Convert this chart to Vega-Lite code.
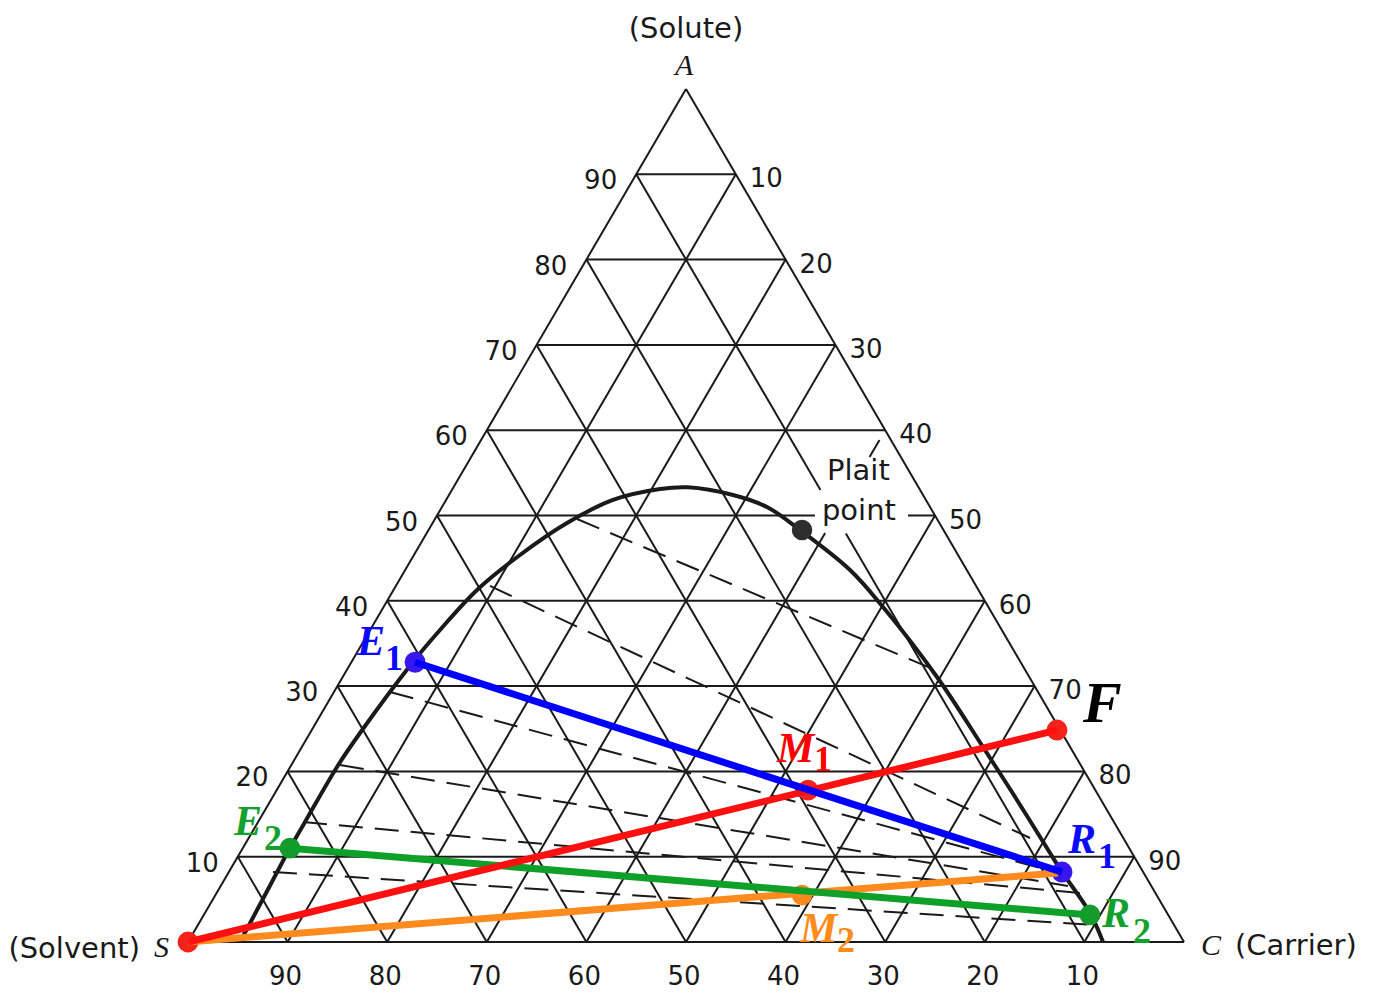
{
  "$schema": "https://vega.github.io/schema/vega-lite/v6.json",
  "width": 996,
  "height": 853,
  "autosize": {"type": "none"},
  "padding": {"left": 188, "top": 89, "right": 216, "bottom": 51},
  "background": "white",
  "config": {"view": {"stroke": null}},
  "resolve": {"scale": {"color": "independent", "size": "independent"}},
  "datasets": {
    "grid": [
      {"x": 0, "y": 0, "x2": 100, "y2": 0},
      {"x": 0, "y": 0, "x2": 50, "y2": 100},
      {"x": 100, "y": 0, "x2": 50, "y2": 100},
      {"x": 5, "y": 10, "x2": 95, "y2": 10},
      {"x": 10, "y": 20, "x2": 90, "y2": 20},
      {"x": 15, "y": 30, "x2": 85, "y2": 30},
      {"x": 20, "y": 40, "x2": 80, "y2": 40},
      {"x": 25, "y": 50, "x2": 62.95, "y2": 50},
      {"x": 72.29, "y": 50, "x2": 75, "y2": 50},
      {"x": 30, "y": 60, "x2": 70, "y2": 60},
      {"x": 35, "y": 70, "x2": 65, "y2": 70},
      {"x": 40, "y": 80, "x2": 60, "y2": 80},
      {"x": 45, "y": 90, "x2": 55, "y2": 90},
      {"x": 10, "y": 0, "x2": 55, "y2": 90},
      {"x": 20, "y": 0, "x2": 60, "y2": 80},
      {"x": 30, "y": 0, "x2": 65, "y2": 70},
      {"x": 40, "y": 0, "x2": 63.97, "y2": 47.95},
      {"x": 68.43, "y": 56.86, "x2": 69.43, "y2": 58.85},
      {"x": 50, "y": 0, "x2": 75, "y2": 50},
      {"x": 60, "y": 0, "x2": 80, "y2": 40},
      {"x": 70, "y": 0, "x2": 85, "y2": 30},
      {"x": 80, "y": 0, "x2": 90, "y2": 20},
      {"x": 90, "y": 0, "x2": 95, "y2": 10},
      {"x": 90, "y": 0, "x2": 66.05, "y2": 47.9},
      {"x": 63.5, "y": 53, "x2": 45, "y2": 90},
      {"x": 80, "y": 0, "x2": 40, "y2": 80},
      {"x": 70, "y": 0, "x2": 35, "y2": 70},
      {"x": 60, "y": 0, "x2": 30, "y2": 60},
      {"x": 50, "y": 0, "x2": 25, "y2": 50},
      {"x": 40, "y": 0, "x2": 20, "y2": 40},
      {"x": 30, "y": 0, "x2": 15, "y2": 30},
      {"x": 20, "y": 0, "x2": 10, "y2": 20},
      {"x": 10, "y": 0, "x2": 5, "y2": 10}
    ],
    "ties": [
      {"x": 39.06, "y": 49.59, "x2": 75.5, "y2": 31.65},
      {"x": 30.32, "y": 41.74, "x2": 84.54, "y2": 12.19},
      {"x": 20.28, "y": 29.31, "x2": 87.05, "y2": 8.21},
      {"x": 15.26, "y": 20.75, "x2": 88.35, "y2": 6.57},
      {"x": 11.55, "y": 14.07, "x2": 89.56, "y2": 5.74},
      {"x": 8.53, "y": 8.21, "x2": 90.96, "y2": 1.99}
    ],
    "curve": [
      {"x": 5.22, "y": 0},
      {"x": 6.93, "y": 3.75},
      {"x": 8.53, "y": 7.27},
      {"x": 10.24, "y": 11.02},
      {"x": 11.75, "y": 14.07},
      {"x": 14.96, "y": 20.52},
      {"x": 17.27, "y": 24.5},
      {"x": 22.59, "y": 32.83},
      {"x": 25.3, "y": 36.58},
      {"x": 29.02, "y": 41.27},
      {"x": 33.33, "y": 45.37},
      {"x": 38.05, "y": 49.12},
      {"x": 42.67, "y": 51.82},
      {"x": 47.39, "y": 53.1},
      {"x": 50.2, "y": 53.3},
      {"x": 54.72, "y": 52.4},
      {"x": 58.13, "y": 50.99},
      {"x": 61.45, "y": 48.3},
      {"x": 66.47, "y": 43.61},
      {"x": 69.78, "y": 39.27},
      {"x": 75.2, "y": 31.07},
      {"x": 79.82, "y": 22.86},
      {"x": 83.23, "y": 16.65},
      {"x": 86.55, "y": 10.43},
      {"x": 87.75, "y": 8.21},
      {"x": 90.56, "y": 3.4},
      {"x": 91.87, "y": 0}
    ],
    "dots": [
      {"name": "S", "grp": "feed", "x": 0, "y": 0},
      {"name": "F", "grp": "feed", "x": 87.25, "y": 24.85},
      {"name": "M1", "grp": "feed", "x": 62.25, "y": 17.8},
      {"name": "E1", "grp": "stage1", "x": 22.8, "y": 32.8},
      {"name": "R1", "grp": "stage1", "x": 87.75, "y": 8.2},
      {"name": "E2", "grp": "stage2", "x": 10.24, "y": 11.0},
      {"name": "R2", "grp": "stage2", "x": 90.56, "y": 3.17},
      {"name": "M2", "grp": "mix2", "x": 61.65, "y": 5.5},
      {"name": "Plait point", "grp": "plait", "x": 61.65, "y": 48.3}
    ],
    "streams": [
      {"grp": "mix2", "x": 0, "y": 0, "x2": 87.35, "y2": 8.09},
      {"grp": "stage2", "x": 10.24, "y": 11.0, "x2": 90.56, "y2": 3.17},
      {"grp": "feed", "x": 0, "y": 0, "x2": 87.25, "y2": 24.85},
      {"grp": "stage1", "x": 22.8, "y": 32.8, "x2": 87.75, "y2": 8.2}
    ],
    "ticks": [
      {"side": "left", "label": "10", "x": 5, "y": 10},
      {"side": "left", "label": "20", "x": 10, "y": 20},
      {"side": "left", "label": "30", "x": 15, "y": 30},
      {"side": "left", "label": "40", "x": 20, "y": 40},
      {"side": "left", "label": "50", "x": 25, "y": 50},
      {"side": "left", "label": "60", "x": 30, "y": 60},
      {"side": "left", "label": "70", "x": 35, "y": 70},
      {"side": "left", "label": "80", "x": 40, "y": 80},
      {"side": "left", "label": "90", "x": 45, "y": 90},
      {"side": "right", "label": "90", "x": 95, "y": 10},
      {"side": "right", "label": "80", "x": 90, "y": 20},
      {"side": "right", "label": "70", "x": 85, "y": 30},
      {"side": "right", "label": "60", "x": 80, "y": 40},
      {"side": "right", "label": "50", "x": 75, "y": 50},
      {"side": "right", "label": "40", "x": 70, "y": 60},
      {"side": "right", "label": "30", "x": 65, "y": 70},
      {"side": "right", "label": "20", "x": 60, "y": 80},
      {"side": "right", "label": "10", "x": 55, "y": 90},
      {"side": "bottom", "label": "90", "x": 10, "y": 0},
      {"side": "bottom", "label": "80", "x": 20, "y": 0},
      {"side": "bottom", "label": "70", "x": 30, "y": 0},
      {"side": "bottom", "label": "60", "x": 40, "y": 0},
      {"side": "bottom", "label": "50", "x": 50, "y": 0},
      {"side": "bottom", "label": "40", "x": 60, "y": 0},
      {"side": "bottom", "label": "30", "x": 70, "y": 0},
      {"side": "bottom", "label": "20", "x": 80, "y": 0},
      {"side": "bottom", "label": "10", "x": 90, "y": 0}
    ],
    "words": [
      {"role": "center", "text": "(Solute)", "x": 50, "y": 105.98},
      {"role": "right", "text": "(Solvent)", "x": -4.82, "y": -1.88},
      {"role": "left", "text": "(Carrier)", "x": 105.12, "y": -1.52},
      {"role": "left", "text": "Plait", "x": 64.16, "y": 54.16},
      {"role": "left", "text": "point", "x": 63.65, "y": 49.47}
    ],
    "letters": [
      {"text": "A", "x": 48.9, "y": 101.64},
      {"text": "S", "x": -3.41, "y": -1.76},
      {"text": "C", "x": 101.7, "y": -1.52}
    ],
    "tags": [
      {"part": "main", "grp": "stage1", "text": "E", "x": 16.97, "y": 33.65},
      {"part": "sub", "grp": "stage1", "text": "1", "x": 19.78, "y": 31.89},
      {"part": "main", "grp": "stage2", "text": "E", "x": 4.62, "y": 12.54},
      {"part": "sub", "grp": "stage2", "text": "2", "x": 7.63, "y": 10.79},
      {"part": "main", "grp": "stage1", "text": "R", "x": 88.35, "y": 10.43},
      {"part": "sub", "grp": "stage1", "text": "1", "x": 91.37, "y": 8.68},
      {"part": "main", "grp": "stage2", "text": "R", "x": 91.77, "y": 1.76},
      {"part": "sub", "grp": "stage2", "text": "2", "x": 94.88, "y": -0.12},
      {"part": "main", "grp": "feed", "text": "M", "x": 59.14, "y": 21.1},
      {"part": "sub", "grp": "feed", "text": "1", "x": 62.85, "y": 20.05},
      {"part": "main", "grp": "mix2", "text": "M", "x": 61.45, "y": 0},
      {"part": "sub", "grp": "mix2", "text": "2", "x": 65.16, "y": -1.17},
      {"part": "big", "grp": "feedtag", "text": "F", "x": 89.86, "y": 25.79}
    ]
  },
  "layer": [
    {
      "data": {"name": "grid"},
      "mark": {"type": "rule", "color": "#1a1a1a", "strokeWidth": 2},
      "encoding": {
        "x": {"field": "x", "type": "quantitative", "scale": {"domain": [0, 100], "nice": false, "zero": false}, "axis": null},
        "y": {"field": "y", "type": "quantitative", "scale": {"domain": [0, 100], "nice": false, "zero": false}, "axis": null},
        "x2": {"field": "x2"},
        "y2": {"field": "y2"}
      }
    },
    {
      "data": {"name": "ties"},
      "mark": {"type": "rule", "color": "#1a1a1a", "strokeWidth": 2, "strokeDash": [24, 12]},
      "encoding": {
        "x": {"field": "x", "type": "quantitative", "axis": null},
        "y": {"field": "y", "type": "quantitative", "axis": null},
        "x2": {"field": "x2"},
        "y2": {"field": "y2"}
      }
    },
    {
      "data": {"name": "curve"},
      "mark": {"type": "line", "color": "#1a1a1a", "strokeWidth": 4, "interpolate": "catmull-rom"},
      "encoding": {
        "x": {"field": "x", "type": "quantitative", "axis": null},
        "y": {"field": "y", "type": "quantitative", "axis": null},
        "order": {"field": "x", "type": "quantitative"}
      }
    },
    {
      "data": {"name": "dots"},
      "mark": {"type": "point", "filled": true, "opacity": 1, "shape": "circle"},
      "encoding": {
        "x": {"field": "x", "type": "quantitative", "axis": null},
        "y": {"field": "y", "type": "quantitative", "axis": null},
        "color": {"field": "grp", "type": "nominal", "legend": null,
          "scale": {"domain": ["stage1", "feed", "stage2", "mix2", "plait"], "range": ["#3a16ee", "#f3231b", "#169a2e", "#f7891c", "#2e2e2e"]}},
        "size": {"field": "grp", "type": "nominal", "legend": null,
          "scale": {"domain": ["stage1", "feed", "stage2", "mix2", "plait"], "range": [440, 420, 400, 420, 170]}}
      }
    },
    {
      "data": {"name": "streams"},
      "transform": [{"filter": "datum.grp === 'mix2'"}],
      "mark": {"type": "rule", "color": "#ff8a1e", "strokeWidth": 7},
      "encoding": {
        "x": {"field": "x", "type": "quantitative", "axis": null},
        "y": {"field": "y", "type": "quantitative", "axis": null},
        "x2": {"field": "x2"},
        "y2": {"field": "y2"}
      }
    },
    {
      "data": {"name": "streams"},
      "transform": [{"filter": "datum.grp === 'stage2'"}],
      "mark": {"type": "rule", "color": "#0fa02a", "strokeWidth": 7},
      "encoding": {
        "x": {"field": "x", "type": "quantitative", "axis": null},
        "y": {"field": "y", "type": "quantitative", "axis": null},
        "x2": {"field": "x2"},
        "y2": {"field": "y2"}
      }
    },
    {
      "data": {"name": "streams"},
      "transform": [{"filter": "datum.grp === 'feed'"}],
      "mark": {"type": "rule", "color": "#ff1010", "strokeWidth": 7},
      "encoding": {
        "x": {"field": "x", "type": "quantitative", "axis": null},
        "y": {"field": "y", "type": "quantitative", "axis": null},
        "x2": {"field": "x2"},
        "y2": {"field": "y2"}
      }
    },
    {
      "data": {"name": "streams"},
      "transform": [{"filter": "datum.grp === 'stage1'"}],
      "mark": {"type": "rule", "color": "#0000ff", "strokeWidth": 7},
      "encoding": {
        "x": {"field": "x", "type": "quantitative", "axis": null},
        "y": {"field": "y", "type": "quantitative", "axis": null},
        "x2": {"field": "x2"},
        "y2": {"field": "y2"}
      }
    },
    {
      "data": {"name": "ticks"},
      "transform": [{"filter": "datum.side === 'left'"}],
      "mark": {"type": "text", "font": "DejaVu Sans", "fontSize": 26, "color": "#1a1a1a", "align": "right", "baseline": "middle", "dx": -19, "dy": 7},
      "encoding": {
        "x": {"field": "x", "type": "quantitative", "axis": null},
        "y": {"field": "y", "type": "quantitative", "axis": null},
        "text": {"field": "label"}
      }
    },
    {
      "data": {"name": "ticks"},
      "transform": [{"filter": "datum.side === 'right'"}],
      "mark": {"type": "text", "font": "DejaVu Sans", "fontSize": 26, "color": "#1a1a1a", "align": "left", "baseline": "middle", "dx": 14, "dy": 5},
      "encoding": {
        "x": {"field": "x", "type": "quantitative", "axis": null},
        "y": {"field": "y", "type": "quantitative", "axis": null},
        "text": {"field": "label"}
      }
    },
    {
      "data": {"name": "ticks"},
      "transform": [{"filter": "datum.side === 'bottom'"}],
      "mark": {"type": "text", "font": "DejaVu Sans", "fontSize": 26, "color": "#1a1a1a", "align": "center", "baseline": "middle", "dx": -2, "dy": 35},
      "encoding": {
        "x": {"field": "x", "type": "quantitative", "axis": null},
        "y": {"field": "y", "type": "quantitative", "axis": null},
        "text": {"field": "label"}
      }
    },
    {
      "data": {"name": "words"},
      "transform": [{"filter": "datum.role === 'center'"}],
      "mark": {"type": "text", "font": "DejaVu Sans", "fontSize": 29, "color": "#1a1a1a", "align": "center", "baseline": "alphabetic"},
      "encoding": {
        "x": {"field": "x", "type": "quantitative", "axis": null},
        "y": {"field": "y", "type": "quantitative", "axis": null},
        "text": {"field": "text"}
      }
    },
    {
      "data": {"name": "words"},
      "transform": [{"filter": "datum.role === 'right'"}],
      "mark": {"type": "text", "font": "DejaVu Sans", "fontSize": 29, "color": "#1a1a1a", "align": "right", "baseline": "alphabetic"},
      "encoding": {
        "x": {"field": "x", "type": "quantitative", "axis": null},
        "y": {"field": "y", "type": "quantitative", "axis": null},
        "text": {"field": "text"}
      }
    },
    {
      "data": {"name": "words"},
      "transform": [{"filter": "datum.role === 'left'"}],
      "mark": {"type": "text", "font": "DejaVu Sans", "fontSize": 29, "color": "#1a1a1a", "align": "left", "baseline": "alphabetic"},
      "encoding": {
        "x": {"field": "x", "type": "quantitative", "axis": null},
        "y": {"field": "y", "type": "quantitative", "axis": null},
        "text": {"field": "text"}
      }
    },
    {
      "data": {"name": "letters"},
      "mark": {"type": "text", "font": "Liberation Serif", "fontStyle": "italic", "fontSize": 30, "color": "#1a1a1a", "align": "left", "baseline": "alphabetic"},
      "encoding": {
        "x": {"field": "x", "type": "quantitative", "axis": null},
        "y": {"field": "y", "type": "quantitative", "axis": null},
        "text": {"field": "text"}
      }
    },
    {
      "data": {"name": "tags"},
      "transform": [{"filter": "datum.part === 'main'"}],
      "mark": {"type": "text", "font": "Liberation Serif", "fontStyle": "italic", "fontWeight": "bold", "fontSize": 42, "align": "left", "baseline": "alphabetic"},
      "encoding": {
        "x": {"field": "x", "type": "quantitative", "axis": null},
        "y": {"field": "y", "type": "quantitative", "axis": null},
        "text": {"field": "text"},
        "color": {"field": "grp", "type": "nominal", "legend": null,
          "scale": {"domain": ["stage1", "feed", "stage2", "mix2"], "range": ["#0a0aff", "#ff0000", "#12a02e", "#ff8c1a"]}}
      }
    },
    {
      "data": {"name": "tags"},
      "transform": [{"filter": "datum.part === 'sub'"}],
      "mark": {"type": "text", "font": "Liberation Serif", "fontWeight": "bold", "fontSize": 36, "align": "left", "baseline": "alphabetic"},
      "encoding": {
        "x": {"field": "x", "type": "quantitative", "axis": null},
        "y": {"field": "y", "type": "quantitative", "axis": null},
        "text": {"field": "text"},
        "color": {"field": "grp", "type": "nominal", "legend": null,
          "scale": {"domain": ["stage1", "feed", "stage2", "mix2"], "range": ["#0a0aff", "#ff0000", "#12a02e", "#ff8c1a"]}}
      }
    },
    {
      "data": {"name": "tags"},
      "transform": [{"filter": "datum.part === 'big'"}],
      "mark": {"type": "text", "font": "Liberation Serif", "fontStyle": "italic", "fontWeight": "bold", "fontSize": 58, "align": "left", "baseline": "alphabetic"},
      "encoding": {
        "x": {"field": "x", "type": "quantitative", "axis": null},
        "y": {"field": "y", "type": "quantitative", "axis": null},
        "text": {"field": "text"},
        "color": {"field": "grp", "type": "nominal", "legend": null,
          "scale": {"domain": ["feedtag"], "range": ["#000000"]}}
      }
    }
  ]
}
